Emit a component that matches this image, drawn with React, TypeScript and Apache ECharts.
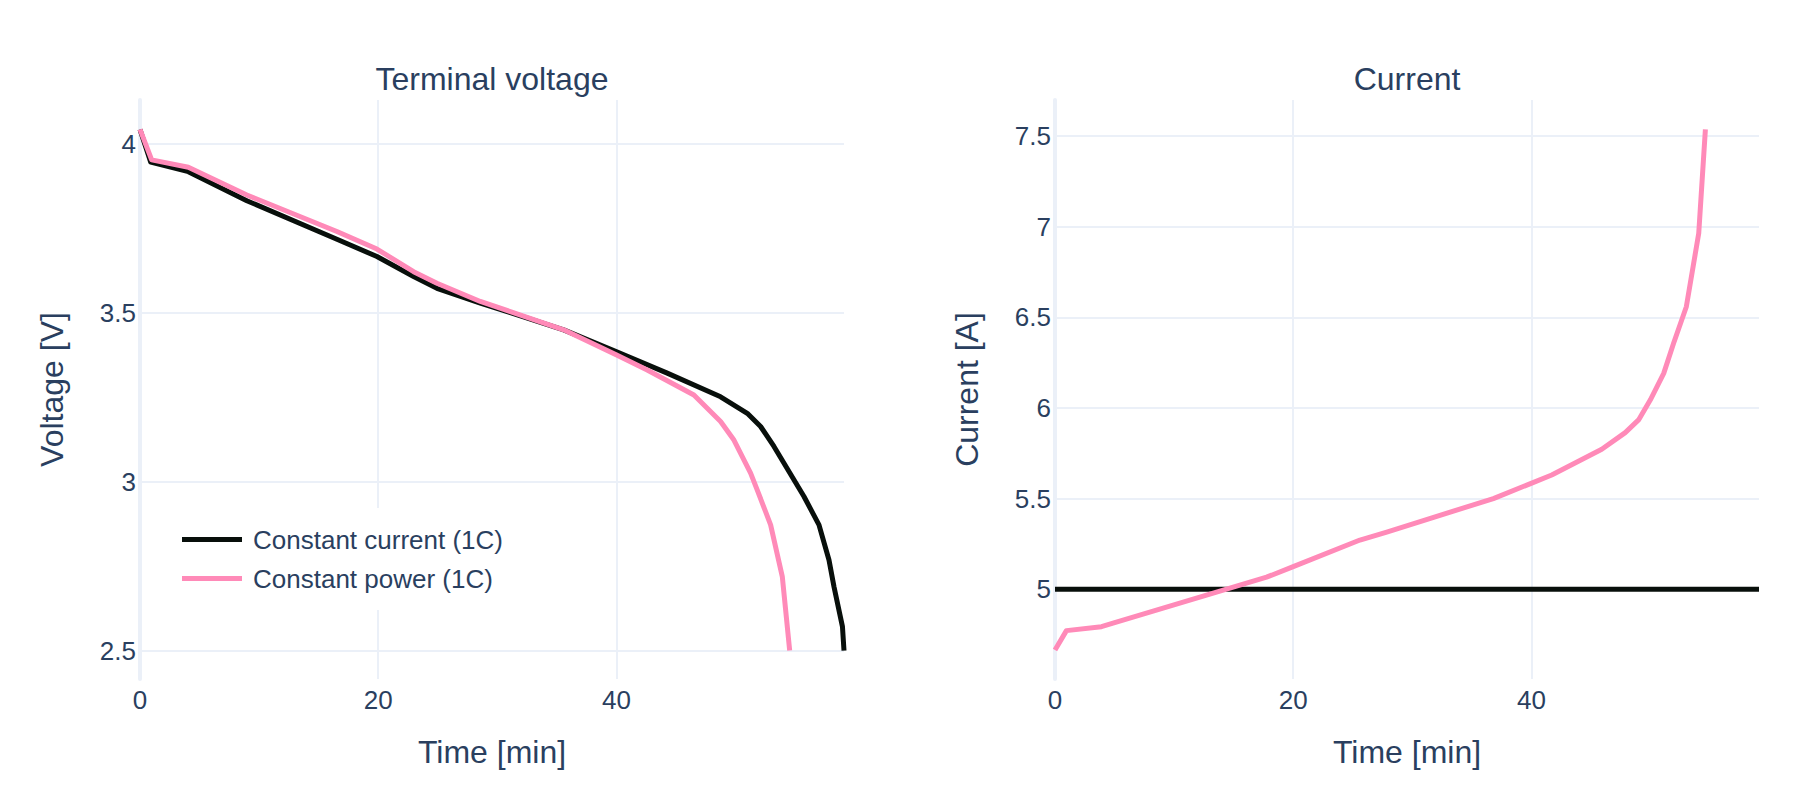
import React, { useEffect, useRef } from "react";
import * as echarts from "echarts";

// Discharge time axis [min]
const TIME_MAX = 59.1;
const timeTicks = [0, 20, 40];
const voltageTicks = [2.5, 3, 3.5, 4];
const currentTicks = [5, 5.5, 6, 6.5, 7, 7.5];

// Constant current (1C) discharge: terminal voltage
const ccTimeV = [0, 0.9, 4.06, 8.97, 16.53, 19.89, 22.97, 24.93, 28.57, 31.09, 35.57, 39.97, 44.26, 48.74, 50.98, 52.1, 53.22, 55.74, 57.0, 57.84, 58.26, 58.97, 59.1];
const ccVoltage = [4.042, 3.945, 3.917, 3.831, 3.717, 3.666, 3.607, 3.572, 3.528, 3.5, 3.449, 3.385, 3.321, 3.251, 3.202, 3.163, 3.104, 2.956, 2.872, 2.768, 2.689, 2.571, 2.5];

// Constant power (1C) discharge: terminal voltage
const cpTimeV = [0, 0.98, 4.06, 8.97, 16.53, 19.89, 22.97, 24.93, 28.57, 31.09, 35.57, 39.97, 42.58, 46.5, 48.74, 49.86, 51.26, 51.82, 52.94, 53.92, 54.54];
const cpVoltage = [4.042, 3.952, 3.93, 3.848, 3.74, 3.688, 3.621, 3.587, 3.533, 3.503, 3.449, 3.375, 3.33, 3.256, 3.178, 3.123, 3.025, 2.975, 2.872, 2.719, 2.5];

// Constant current (1C) discharge: current
const ccTimeI = [0, 59.1];
const ccCurrent = [5, 5];

// Constant power (1C) discharge: current
const cpTimeI = [0, 0.96, 3.9, 4.87, 14.4, 17.76, 20.0, 25.6, 27.85, 30.65, 36.8, 39.97, 41.7, 45.9, 47.87, 48.99, 49.97, 51.1, 51.93, 53.0, 54.04, 54.6];
const cpCurrent = [4.664, 4.771, 4.793, 4.812, 5.0, 5.066, 5.124, 5.271, 5.315, 5.373, 5.5, 5.584, 5.63, 5.772, 5.864, 5.934, 6.044, 6.191, 6.357, 6.559, 6.964, 7.538];

const CC_NAME = "Constant current (1C)";
const CP_NAME = "Constant power (1C)";

const TEXT = "#2a3f5f";
const GRID = "#EBF0F8";
const CC_COLOR = "#080f0b";
const CP_COLOR = "#ff8ab8";
const FONT = "'Liberation Sans', Arial, sans-serif";
const LINE_WIDTH = 5;

const zip = (xs: number[], ys: number[]) => xs.map((x, i) => [x, ys[i]]);

const xAxisFor = (gridIndex: number) => ({
  type: "value",
  gridIndex,
  min: 0,
  max: TIME_MAX,
  name: "Time [min]",
  nameLocation: "middle",
  nameGap: 57,
  nameTextStyle: { color: TEXT, fontSize: 32, fontFamily: FONT },
  axisLine: { show: false },
  axisTick: { show: false, customValues: timeTicks },
  axisLabel: { customValues: timeTicks, color: TEXT, fontSize: 26, fontFamily: FONT, margin: 8 },
  splitLine: { show: true, lineStyle: { color: GRID, width: 2 } },
});

const yAxisFor = (gridIndex: number, name: string, min: number, max: number, ticks: number[]) => ({
  type: "value",
  gridIndex,
  min,
  max,
  name,
  nameLocation: "middle",
  nameGap: 72,
  nameTextStyle: { color: TEXT, fontSize: 32, fontFamily: FONT },
  axisLine: { show: true, onZero: false, lineStyle: { color: GRID, width: 4 } },
  axisTick: { show: false, customValues: ticks },
  axisLabel: { customValues: ticks, color: TEXT, fontSize: 26, fontFamily: FONT, margin: 4 },
  splitLine: { show: true, lineStyle: { color: GRID, width: 2 } },
});

const lineSeries = (name: string, color: string, axis: number, data: number[][]) => ({
  type: "line",
  name,
  xAxisIndex: axis,
  yAxisIndex: axis,
  data,
  showSymbol: false,
  symbol: "none",
  silent: true,
  lineStyle: { width: LINE_WIDTH, color, join: "round" },
  itemStyle: { color },
});

const titleStyle = { color: TEXT, fontSize: 32, fontWeight: "normal", fontFamily: FONT };

const option = {
  animation: false,
  backgroundColor: "#ffffff",
  textStyle: { fontFamily: FONT },
  title: [
    { text: "Terminal voltage", left: 492, top: 63, textAlign: "center", padding: 0, textStyle: titleStyle },
    { text: "Current", left: 1407, top: 63, textAlign: "center", padding: 0, textStyle: titleStyle },
  ],
  grid: [
    { left: 140, top: 100, width: 704, height: 579, containLabel: false },
    { left: 1055, top: 100, width: 704, height: 579, containLabel: false },
  ],
  xAxis: [xAxisFor(0), xAxisFor(1)],
  yAxis: [
    yAxisFor(0, "Voltage [V]", 2.416, 4.129, voltageTicks),
    yAxisFor(1, "Current [A]", 4.504, 7.7, currentTicks),
  ],
  legend: {
    orient: "vertical",
    left: 172,
    top: 508,
    padding: [12, 10, 12, 10],
    backgroundColor: "#ffffff",
    itemGap: 0,
    itemWidth: 60,
    itemHeight: LINE_WIDTH,
    icon: "rect",
    selectedMode: false,
    textStyle: { color: TEXT, fontSize: 26, fontFamily: FONT, lineHeight: 39, padding: [0, 0, 0, 6] },
    data: [CC_NAME, CP_NAME],
  },
  series: [
    lineSeries(CC_NAME, CC_COLOR, 0, zip(ccTimeV, ccVoltage)),
    lineSeries(CP_NAME, CP_COLOR, 0, zip(cpTimeV, cpVoltage)),
    lineSeries(CC_NAME, CC_COLOR, 1, zip(ccTimeI, ccCurrent)),
    lineSeries(CP_NAME, CP_COLOR, 1, zip(cpTimeI, cpCurrent)),
  ],
};

export default function App() {
  const ref = useRef<HTMLDivElement>(null);

  useEffect(() => {
    if (!ref.current) return;
    const chart = echarts.init(ref.current, null, { renderer: "svg" });
    chart.setOption(option as any);
    return () => chart.dispose();
  }, []);

  return (
    <div
      ref={ref}
      style={{ position: "fixed", left: 0, top: 0, width: 1800, height: 800, background: "#ffffff" }}
    />
  );
}
